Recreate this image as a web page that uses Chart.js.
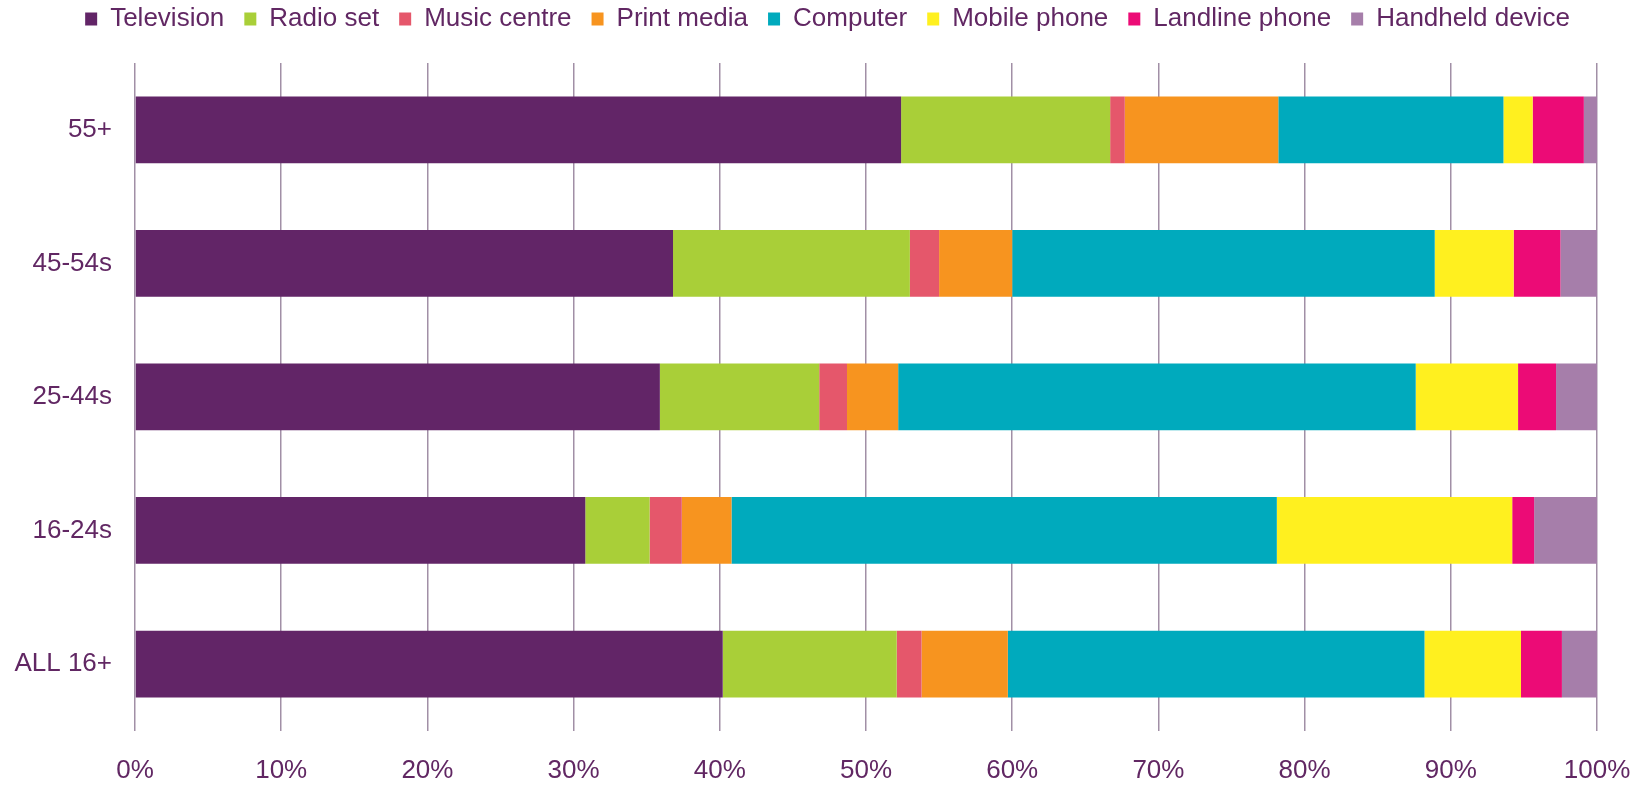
<!DOCTYPE html>
<html>
<head>
<meta charset="utf-8">
<title>Device used most often, by age</title>
<script src="https://cdn.jsdelivr.net/npm/chart.js@4.4.1/dist/chart.umd.min.js"></script>
<style>
  html, body { margin: 0; padding: 0; background: #fff; }
  #wrap { width: 1644px; height: 785px; position: relative; }
</style>
</head>
<body>
<div id="wrap"><canvas id="deviceChart"></canvas></div>
<script>
// Age groups (top to bottom)
const ageGroups = ["55+", "45-54s", "25-44s", "16-24s", "ALL 16+"];

// Share of each device, in %
const television = [52.4, 36.8, 35.9, 30.8, 40.2];
const radioSet = [14.3, 16.2, 10.9, 4.4, 11.9];
const musicCentre = [1.0, 2.0, 1.9, 2.2, 1.7];
const printMedia = [10.5, 5.0, 3.5, 3.4, 5.9];
const computer = [15.4, 28.9, 35.4, 37.3, 28.5];
const mobilePhone = [2.0, 5.4, 7.0, 16.1, 6.6];
const landlinePhone = [3.5, 3.2, 2.6, 1.5, 2.8];
const handheldDevice = [0.9, 2.5, 2.8, 4.3, 2.4];

const xTicks = [0, 10, 20, 30, 40, 50, 60, 70, 80, 90, 100];

const textColor = "#612763";
const gridColor = "#a18fa6";
const font = { family: "'Liberation Sans', Arial, sans-serif", size: 26 };

const series = [
  { label: "Television", data: television, color: "#622567" },
  { label: "Radio set", data: radioSet, color: "#a9cf38" },
  { label: "Music centre", data: musicCentre, color: "#e5576b" },
  { label: "Print media", data: printMedia, color: "#f7941f" },
  { label: "Computer", data: computer, color: "#00aabd" },
  { label: "Mobile phone", data: mobilePhone, color: "#fff01f" },
  { label: "Landline phone", data: landlinePhone, color: "#ec0b76" },
  { label: "Handheld device", data: handheldDevice, color: "#a67eaa" }
];

// extra room under the legend
const legendGap = {
  id: "legendGap",
  beforeInit(chart) {
    const fit = chart.legend.fit;
    chart.legend.fit = function () {
      fit.bind(chart.legend)();
      this.height += 21;
    };
  }
};

new Chart(document.getElementById("deviceChart"), {
  type: "bar",
  data: {
    labels: ageGroups,
    datasets: series.map(s => ({
      label: s.label,
      data: s.data,
      backgroundColor: s.color,
      borderWidth: 0,
      barPercentage: 0.5,
      categoryPercentage: 1
    }))
  },
  plugins: [legendGap],
  options: {
    indexAxis: "y",
    responsive: true,
    maintainAspectRatio: false,
    animation: false,
    layout: { padding: { top: -14, left: 11, right: 0, bottom: -25 } },
    plugins: {
      tooltip: { enabled: false },
      legend: {
        position: "top",
        labels: {
          color: textColor,
          font: font,
          boxWidth: 12,
          boxHeight: 13,
          padding: 20
        }
      }
    },
    scales: {
      x: {
        stacked: true,
        min: 0,
        max: 100,
        afterBuildTicks: scale => { scale.ticks = xTicks.map(v => ({ value: v })); },
        // keep the plot's right edge clear of the canvas edge
        afterFit: scale => { scale.paddingRight = 47; },
        ticks: {
          color: textColor,
          font: font,
          padding: 24,
          callback: v => v + "%"
        },
        grid: { color: gridColor, lineWidth: 1.5, drawTicks: false },
        border: { display: false }
      },
      y: {
        stacked: true,
        afterFit: scale => {
          scale.width = 124;
          scale.paddingTop = 0;
          scale.paddingBottom = 0;
        },
        ticks: { color: textColor, font: font, padding: 23 },
        grid: { display: false, drawTicks: false },
        border: { display: false }
      }
    }
  }
});
</script>
</body>
</html>
